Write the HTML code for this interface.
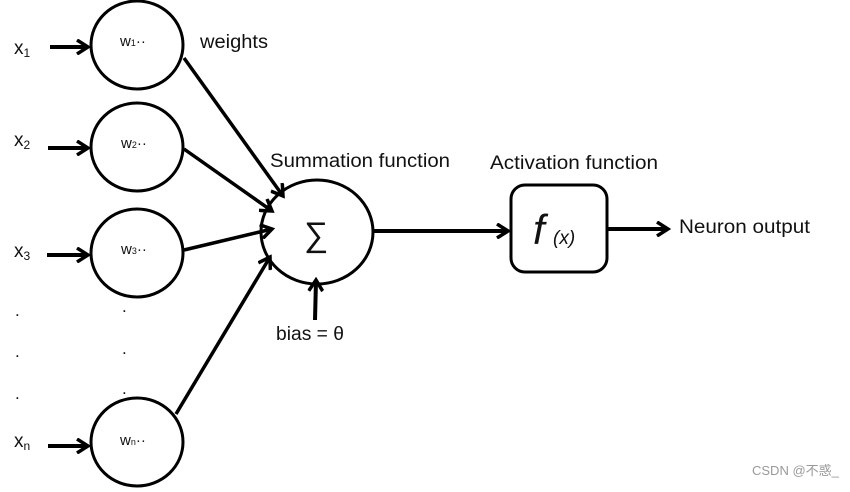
<!DOCTYPE html>
<html><head><meta charset="utf-8"><style>
body{margin:0;background:#fff;}
svg{display:block;}
text{font-family:"Liberation Sans","Noto Sans CJK SC",sans-serif;fill:#111;}
</style></head><body>
<svg width="850" height="492" viewBox="0 0 850 492" xmlns="http://www.w3.org/2000/svg">
<defs>
<marker id="b" markerWidth="16" markerHeight="16" refX="13" refY="8" orient="auto" markerUnits="userSpaceOnUse" viewBox="0 0 16 16">
<path d="M2,1 L13,8 L2,15" fill="none" stroke="#000" stroke-width="3.5"/>
</marker>
</defs>
<g fill="none" stroke="#000" stroke-width="3">
<ellipse cx="137" cy="45" rx="46" ry="44"/>
<ellipse cx="137" cy="147" rx="46" ry="44"/>
<ellipse cx="137" cy="253" rx="46" ry="44"/>
<ellipse cx="137" cy="442" rx="46" ry="44"/>
<ellipse cx="317" cy="232" rx="56" ry="52"/>
<rect x="511" y="185" width="96" height="87" rx="14"/>
</g>
<g stroke="#000" stroke-width="4" marker-end="url(#b)">
<line x1="50" y1="47" x2="88" y2="47"/>
<line x1="48" y1="148" x2="88" y2="148"/>
<line x1="47" y1="255" x2="88" y2="255"/>
<line x1="48" y1="446" x2="88" y2="446"/>
<line x1="373" y1="231" x2="508" y2="231"/>
<line x1="607" y1="229" x2="668" y2="229"/>
<line x1="315" y1="320" x2="316" y2="280"/>
</g>
<g stroke="#000" stroke-width="3.5" marker-end="url(#b)">
<line x1="184" y1="58" x2="283" y2="196"/>
<line x1="184" y1="149" x2="272" y2="211"/>
<line x1="184" y1="250" x2="272" y2="229"/>
<line x1="176" y1="414" x2="270" y2="257"/>
</g>
<g font-size="19">
<text x="14" y="54">x<tspan font-size="12" dy="3">1</tspan></text>
<text x="14" y="146">x<tspan font-size="12" dy="3">2</tspan></text>
<text x="14" y="257">x<tspan font-size="12" dy="3">3</tspan></text>
<text x="14" y="447">x<tspan font-size="12" dy="3">n</tspan></text>
<text x="200" y="48" textLength="68" lengthAdjust="spacingAndGlyphs">weights</text>
<text x="270" y="167" textLength="180" lengthAdjust="spacingAndGlyphs">Summation function</text>
<text x="490" y="169" textLength="168" lengthAdjust="spacingAndGlyphs">Activation function</text>
<text x="679" y="233" textLength="131" lengthAdjust="spacingAndGlyphs">Neuron output</text>
<text x="276" y="340" textLength="68" lengthAdjust="spacingAndGlyphs">bias = θ</text>
</g>
<g font-size="15">
<text x="120" y="46">w<tspan font-size="9">1</tspan>··</text>
<text x="121" y="148">w<tspan font-size="9">2</tspan>··</text>
<text x="121" y="254">w<tspan font-size="9">3</tspan>··</text>
<text x="120" y="445">w<tspan font-size="9">n</tspan>··</text>
</g>
<g font-size="17">
<text x="15" y="316">.</text><text x="15" y="357">.</text><text x="15" y="399">.</text>
<text x="122" y="312">.</text><text x="122" y="354">.</text><text x="122" y="394">.</text>
</g>
<text x="304" y="246" font-size="34">∑</text>
<text x="533" y="244" font-size="42" font-style="italic" font-family="Liberation Serif,serif">f</text>
<text x="553" y="244" font-size="19" font-style="italic">(x)</text>
<text x="752" y="475" font-size="13" style="fill:#999">CSDN @不惑_</text>
</svg>
</body></html>
